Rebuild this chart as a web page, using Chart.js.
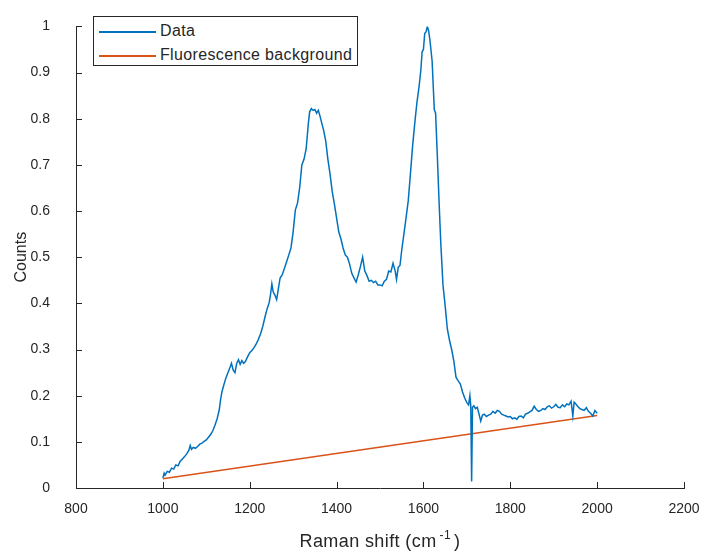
<!DOCTYPE html>
<html>
<head>
<meta charset="utf-8">
<script src="https://cdn.jsdelivr.net/npm/chart.js@4"></script>
<style>
  html, body { margin: 0; padding: 0; background: #fff; }
  #wrap { position: relative; width: 723px; height: 558px; }
  #legend {
    position: absolute; left: 93px; top: 16px; width: 265px; height: 50px;
    box-sizing: border-box; border: 1px solid #262626; background: #fff;
    font-family: "Liberation Sans", Arial, sans-serif; font-size: 16px; letter-spacing: 0.35px; color: #262626;
  }
  .row { position: absolute; left: 5px; height: 20px; line-height: 20px; white-space: nowrap; }
  .row span.swatch { display: inline-block; width: 57px; height: 2px; vertical-align: middle; margin-right: 4px; }
  #xtitle {
    position: absolute; left: 76px; width: 608px; top: 529px; text-align: center;
    font-family: "Liberation Sans", Arial, sans-serif; font-size: 18px; letter-spacing: 0.4px; color: #262626;
  }
  #xtitle sup { font-size: 12px; position: relative; top: -1px; margin: 0 3px 0 3px; }
</style>
</head>
<body>
<div id="wrap">
  <canvas id="c" width="723" height="558"></canvas>
  <div id="legend">
    <div class="row" style="top:4px"><span class="swatch" style="background:#0072BD"></span>Data</div>
    <div class="row" style="top:28px"><span class="swatch" style="background:#D95319"></span>Fluorescence background</div>
  </div>
  <div id="xtitle">Raman shift (cm<sup>-1</sup>)</div>
</div>
<script>
(function () {
  "use strict";

  // Raman spectrum
  var ramanShift = [
    1000, 1003, 1005, 1010, 1015, 1020, 1025, 1030, 1035, 1040, 1045, 1050, 1055, 1060, 1063, 1066,
    1070, 1075, 1080, 1085, 1090, 1095, 1100, 1105, 1110, 1115, 1120, 1125, 1130, 1133, 1136, 1140,
    1145, 1150, 1155, 1158, 1162, 1166, 1170, 1174, 1178, 1182, 1186, 1190, 1195, 1200, 1205, 1210,
    1215, 1220, 1225, 1230, 1235, 1240, 1245, 1248, 1251, 1254, 1258, 1262, 1266, 1270, 1275, 1280,
    1285, 1290, 1295, 1300, 1305, 1310, 1315, 1320, 1325, 1330, 1335, 1338, 1342, 1346, 1350, 1354,
    1358, 1362, 1366, 1370, 1375, 1380, 1385, 1390, 1395, 1400, 1405, 1410, 1415, 1420, 1425, 1430,
    1435, 1440, 1445, 1450, 1455, 1460, 1465, 1470, 1475, 1480, 1485, 1490, 1495, 1500, 1505, 1510,
    1515, 1520, 1525, 1530, 1535, 1538, 1542, 1546, 1550, 1555, 1560, 1565, 1570, 1575, 1580, 1585,
    1590, 1594, 1597, 1600, 1603, 1606, 1609, 1612, 1615, 1620, 1625, 1628, 1632, 1636, 1640, 1645,
    1650, 1655, 1660, 1665, 1670, 1675, 1680, 1685, 1690, 1695, 1700, 1704, 1707, 1709, 1711, 1713,
    1716, 1720, 1724, 1728, 1732, 1736, 1740, 1745, 1750, 1755, 1760, 1765, 1770, 1775, 1780, 1785,
    1790, 1795, 1800, 1805, 1810, 1815, 1820, 1825, 1830, 1835, 1840, 1845, 1850, 1855, 1860, 1865,
    1870, 1875, 1880, 1885, 1890, 1895, 1900, 1905, 1910, 1915, 1920, 1925, 1930, 1935, 1940, 1944,
    1947, 1950, 1955, 1960, 1965, 1970, 1975, 1980, 1985, 1990, 1995, 2000
  ];
  var counts = [
    0.022, 0.032, 0.028, 0.036, 0.034, 0.043, 0.041, 0.050, 0.048, 0.058, 0.063, 0.068, 0.074, 0.082, 0.092, 0.084,
    0.088, 0.086, 0.090, 0.095, 0.097, 0.101, 0.104, 0.110, 0.116, 0.124, 0.136, 0.150, 0.170, 0.192, 0.208, 0.222,
    0.238, 0.250, 0.262, 0.270, 0.255, 0.250, 0.270, 0.278, 0.268, 0.276, 0.270, 0.274, 0.284, 0.293, 0.298, 0.304,
    0.312, 0.322, 0.334, 0.350, 0.370, 0.388, 0.402, 0.420, 0.442, 0.425, 0.418, 0.408, 0.432, 0.455, 0.462, 0.476,
    0.490, 0.505, 0.520, 0.555, 0.602, 0.617, 0.650, 0.700, 0.712, 0.735, 0.790, 0.815, 0.822, 0.818, 0.820, 0.812,
    0.818, 0.805, 0.790, 0.776, 0.752, 0.712, 0.680, 0.642, 0.615, 0.585, 0.555, 0.540, 0.520, 0.505, 0.500, 0.485,
    0.465, 0.455, 0.446, 0.462, 0.480, 0.500, 0.470, 0.460, 0.448, 0.450, 0.445, 0.448, 0.440, 0.440, 0.438, 0.448,
    0.452, 0.470, 0.468, 0.487, 0.470, 0.452, 0.478, 0.482, 0.515, 0.550, 0.585, 0.622, 0.680, 0.740, 0.790, 0.835,
    0.870, 0.905, 0.945, 0.950, 0.985, 0.988, 1.000, 0.990, 0.970, 0.925, 0.820, 0.812, 0.720, 0.620, 0.530, 0.440,
    0.395, 0.345, 0.320, 0.300, 0.275, 0.240, 0.232, 0.225, 0.208, 0.195, 0.185, 0.180, 0.200, 0.178, 0.014, 0.175,
    0.178, 0.172, 0.175, 0.160, 0.145, 0.158, 0.160, 0.155, 0.158, 0.160, 0.166, 0.162, 0.168, 0.166, 0.160, 0.158,
    0.156, 0.154, 0.155, 0.150, 0.152, 0.149, 0.155, 0.156, 0.152, 0.160, 0.162, 0.165, 0.168, 0.177, 0.170, 0.166,
    0.168, 0.172, 0.170, 0.176, 0.178, 0.173, 0.176, 0.181, 0.175, 0.174, 0.180, 0.176, 0.182, 0.180, 0.188, 0.156,
    0.186, 0.183, 0.177, 0.172, 0.170, 0.168, 0.174, 0.166, 0.162, 0.156, 0.168, 0.162
  ];

  // straight fluorescence baseline
  var backgroundShift = [1000, 2000];
  var backgroundCounts = [0.020, 0.157];

  var xTicks = [800, 1000, 1200, 1400, 1600, 1800, 2000, 2200];
  var yTicks = [0, 0.1, 0.2, 0.3, 0.4, 0.5, 0.6, 0.7, 0.8, 0.9, 1];

  var axisColor = "#262626";
  var font = { family: "'Liberation Sans', Arial, sans-serif", size: 14 };

  function pts(xs, ys) {
    return xs.map(function (x, i) { return { x: x, y: ys[i] }; });
  }

  // MATLAB-style inward tick marks
  var inwardTicks = {
    id: "inwardTicks",
    afterDraw: function (chart) {
      var ctx = chart.ctx, xs = chart.scales.x, ys = chart.scales.y;
      var a = chart.chartArea;
      ctx.save();
      ctx.strokeStyle = axisColor;
      ctx.lineWidth = 1;
      ctx.beginPath();
      xTicks.forEach(function (v) {
        var p = Math.round(xs.getPixelForValue(v)) + 0.5;
        ctx.moveTo(p, a.bottom);
        ctx.lineTo(p, a.bottom - 6);
      });
      yTicks.forEach(function (v) {
        var p = Math.round(ys.getPixelForValue(v)) + 0.5;
        ctx.moveTo(a.left, p);
        ctx.lineTo(a.left + 6, p);
      });
      ctx.stroke();
      ctx.restore();
    }
  };

  new Chart(document.getElementById("c").getContext("2d"), {
    type: "line",
    data: {
      datasets: [
        {
          label: "Data",
          data: pts(ramanShift, counts),
          borderColor: "#0072BD",
          borderWidth: 1.5,
          pointRadius: 0,
          tension: 0,
          fill: false
        },
        {
          label: "Fluorescence background",
          data: pts(backgroundShift, backgroundCounts),
          borderColor: "#D95319",
          borderWidth: 1.5,
          pointRadius: 0,
          tension: 0,
          fill: false
        }
      ]
    },
    options: {
      responsive: false,
      animation: false,
      layout: { padding: { top: 10, right: 39, left: 0, bottom: 0 } },
      plugins: { legend: { display: false }, tooltip: { enabled: false } },
      scales: {
        x: {
          type: "linear",
          min: 800,
          max: 2200,
          afterBuildTicks: function (s) { s.ticks = xTicks.map(function (v) { return { value: v }; }); },
          afterFit: function (s) { s.height = 70; },
          ticks: { color: axisColor, font: font, padding: 5, maxRotation: 0,
                   callback: function (v) { return String(v); } },
          grid: { display: false },
          border: { display: true, color: axisColor, width: 1 },
          title: { display: false }
        },
        y: {
          min: 0,
          max: 1,
          afterBuildTicks: function (s) { s.ticks = yTicks.map(function (v) { return { value: v }; }); },
          afterFit: function (s) { s.width = 76; },
          ticks: { color: axisColor, font: font, padding: 18,
                   callback: function (v) { return String(v); } },
          grid: { display: false },
          border: { display: true, color: axisColor, width: 1 },
          title: { display: true, text: "Counts", color: axisColor,
                   font: { family: font.family, size: 16 }, padding: { top: 12, bottom: 0 } }
        }
      }
    },
    plugins: [inwardTicks]
  });
})();
</script>
</body>
</html>
